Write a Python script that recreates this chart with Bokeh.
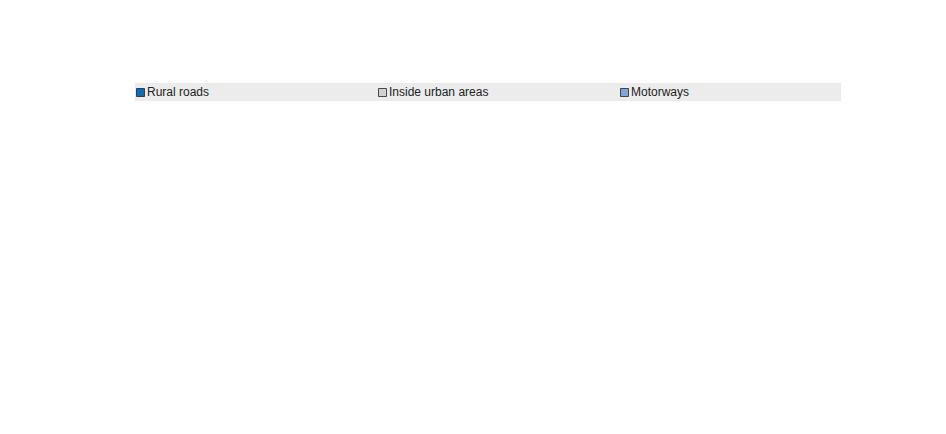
from bokeh.plotting import figure
from bokeh.models import ColumnDataSource, FixedTicker, Legend, LegendItem, Title, LabelSet
from bokeh.embed import file_html
from bokeh.resources import INLINE

years = ["1990", "2000", "2010", "2013", "2014"]
rural = [2960, 3369, 2058, 1736, 1678]
urban = [4348, 2880, 1813, 1581, 1466]
motorways = [25, 45, 37, 40, 58]
series = [("Rural roads", rural, "#0b6cb8"), ("Inside urban areas", urban, "#d1d1d1"), ("Motorways", motorways, "#7fa6d6")]
yticks = list(range(0, 5001, 500))

FONT = "Liberation Sans"
p = figure(width=928, height=416, x_range=(0, 5), y_range=(0, 5000),
           output_backend="svg", toolbar_location=None,
           min_border_left=60, min_border_right=12, min_border_bottom=28, min_border_top=4)
p.background_fill_color = "#e9edf7"
p.border_fill_color = "white"
p.outline_line_color = "#222222"

bw = 0.222
items = []
for i, (name, vals, col) in enumerate(series):
    xs = [k + 0.5 + (i - 1) * bw for k in range(len(years))]
    src = ColumnDataSource(dict(x=xs, top=vals, lab=[f"{v:,}".replace(",", " ") for v in vals]))
    r = p.vbar(x="x", top="top", width=bw, bottom=0, source=src, fill_color=col, line_color="#222222", line_width=0.8)
    items.append(LegendItem(label=name, renderers=[r]))
    p.add_layout(LabelSet(x="x", y="top", text="lab", source=src, text_align="center", y_offset=8,
                          text_font=FONT, text_font_size="12px", text_color="#222222"))

p.xaxis.ticker = FixedTicker(ticks=[k + 0.5 for k in range(5)])
p.xaxis.major_label_overrides = {k + 0.5: y for k, y in enumerate(years)}
p.xaxis.major_tick_line_color = None
p.xaxis.minor_tick_line_color = None
p.xgrid.ticker = FixedTicker(ticks=[1, 2, 3, 4])
p.xgrid.grid_line_color = "white"
p.ygrid.ticker = FixedTicker(ticks=yticks)
p.ygrid.grid_line_color = "white"
p.yaxis.ticker = FixedTicker(ticks=yticks)
p.yaxis.major_label_overrides = {t: f"{t:,}".replace(",", " ") for t in yticks}
p.yaxis.minor_tick_line_color = None
p.yaxis.major_tick_in = 0
p.yaxis.major_tick_out = 4
for ax in (p.xaxis, p.yaxis):
    ax.axis_line_color = "#222222"
    ax.axis_line_width = 1.5
    ax.major_label_text_font = FONT
    ax.major_label_text_font_size = "12px"
    ax.major_label_text_color = "#222222"

p.add_layout(Title(text="Number of fatalities", text_font=FONT, text_font_size="12px",
                   text_font_style="normal", text_color="#222222", align="left", standoff=6), "above")

leg = Legend(items=items, orientation="horizontal", background_fill_color="#ebebeb",
             border_line_color=None, label_text_font=FONT, label_text_font_size="12px",
             label_text_color="#222222", glyph_width=10, glyph_height=10, label_standoff=2,
             label_width=210, spacing=20, padding=8, margin=6, location="center")
leg.label_height = 18
p.add_layout(leg, "above")

open("out.html", "w").write(file_html(p, INLINE))
